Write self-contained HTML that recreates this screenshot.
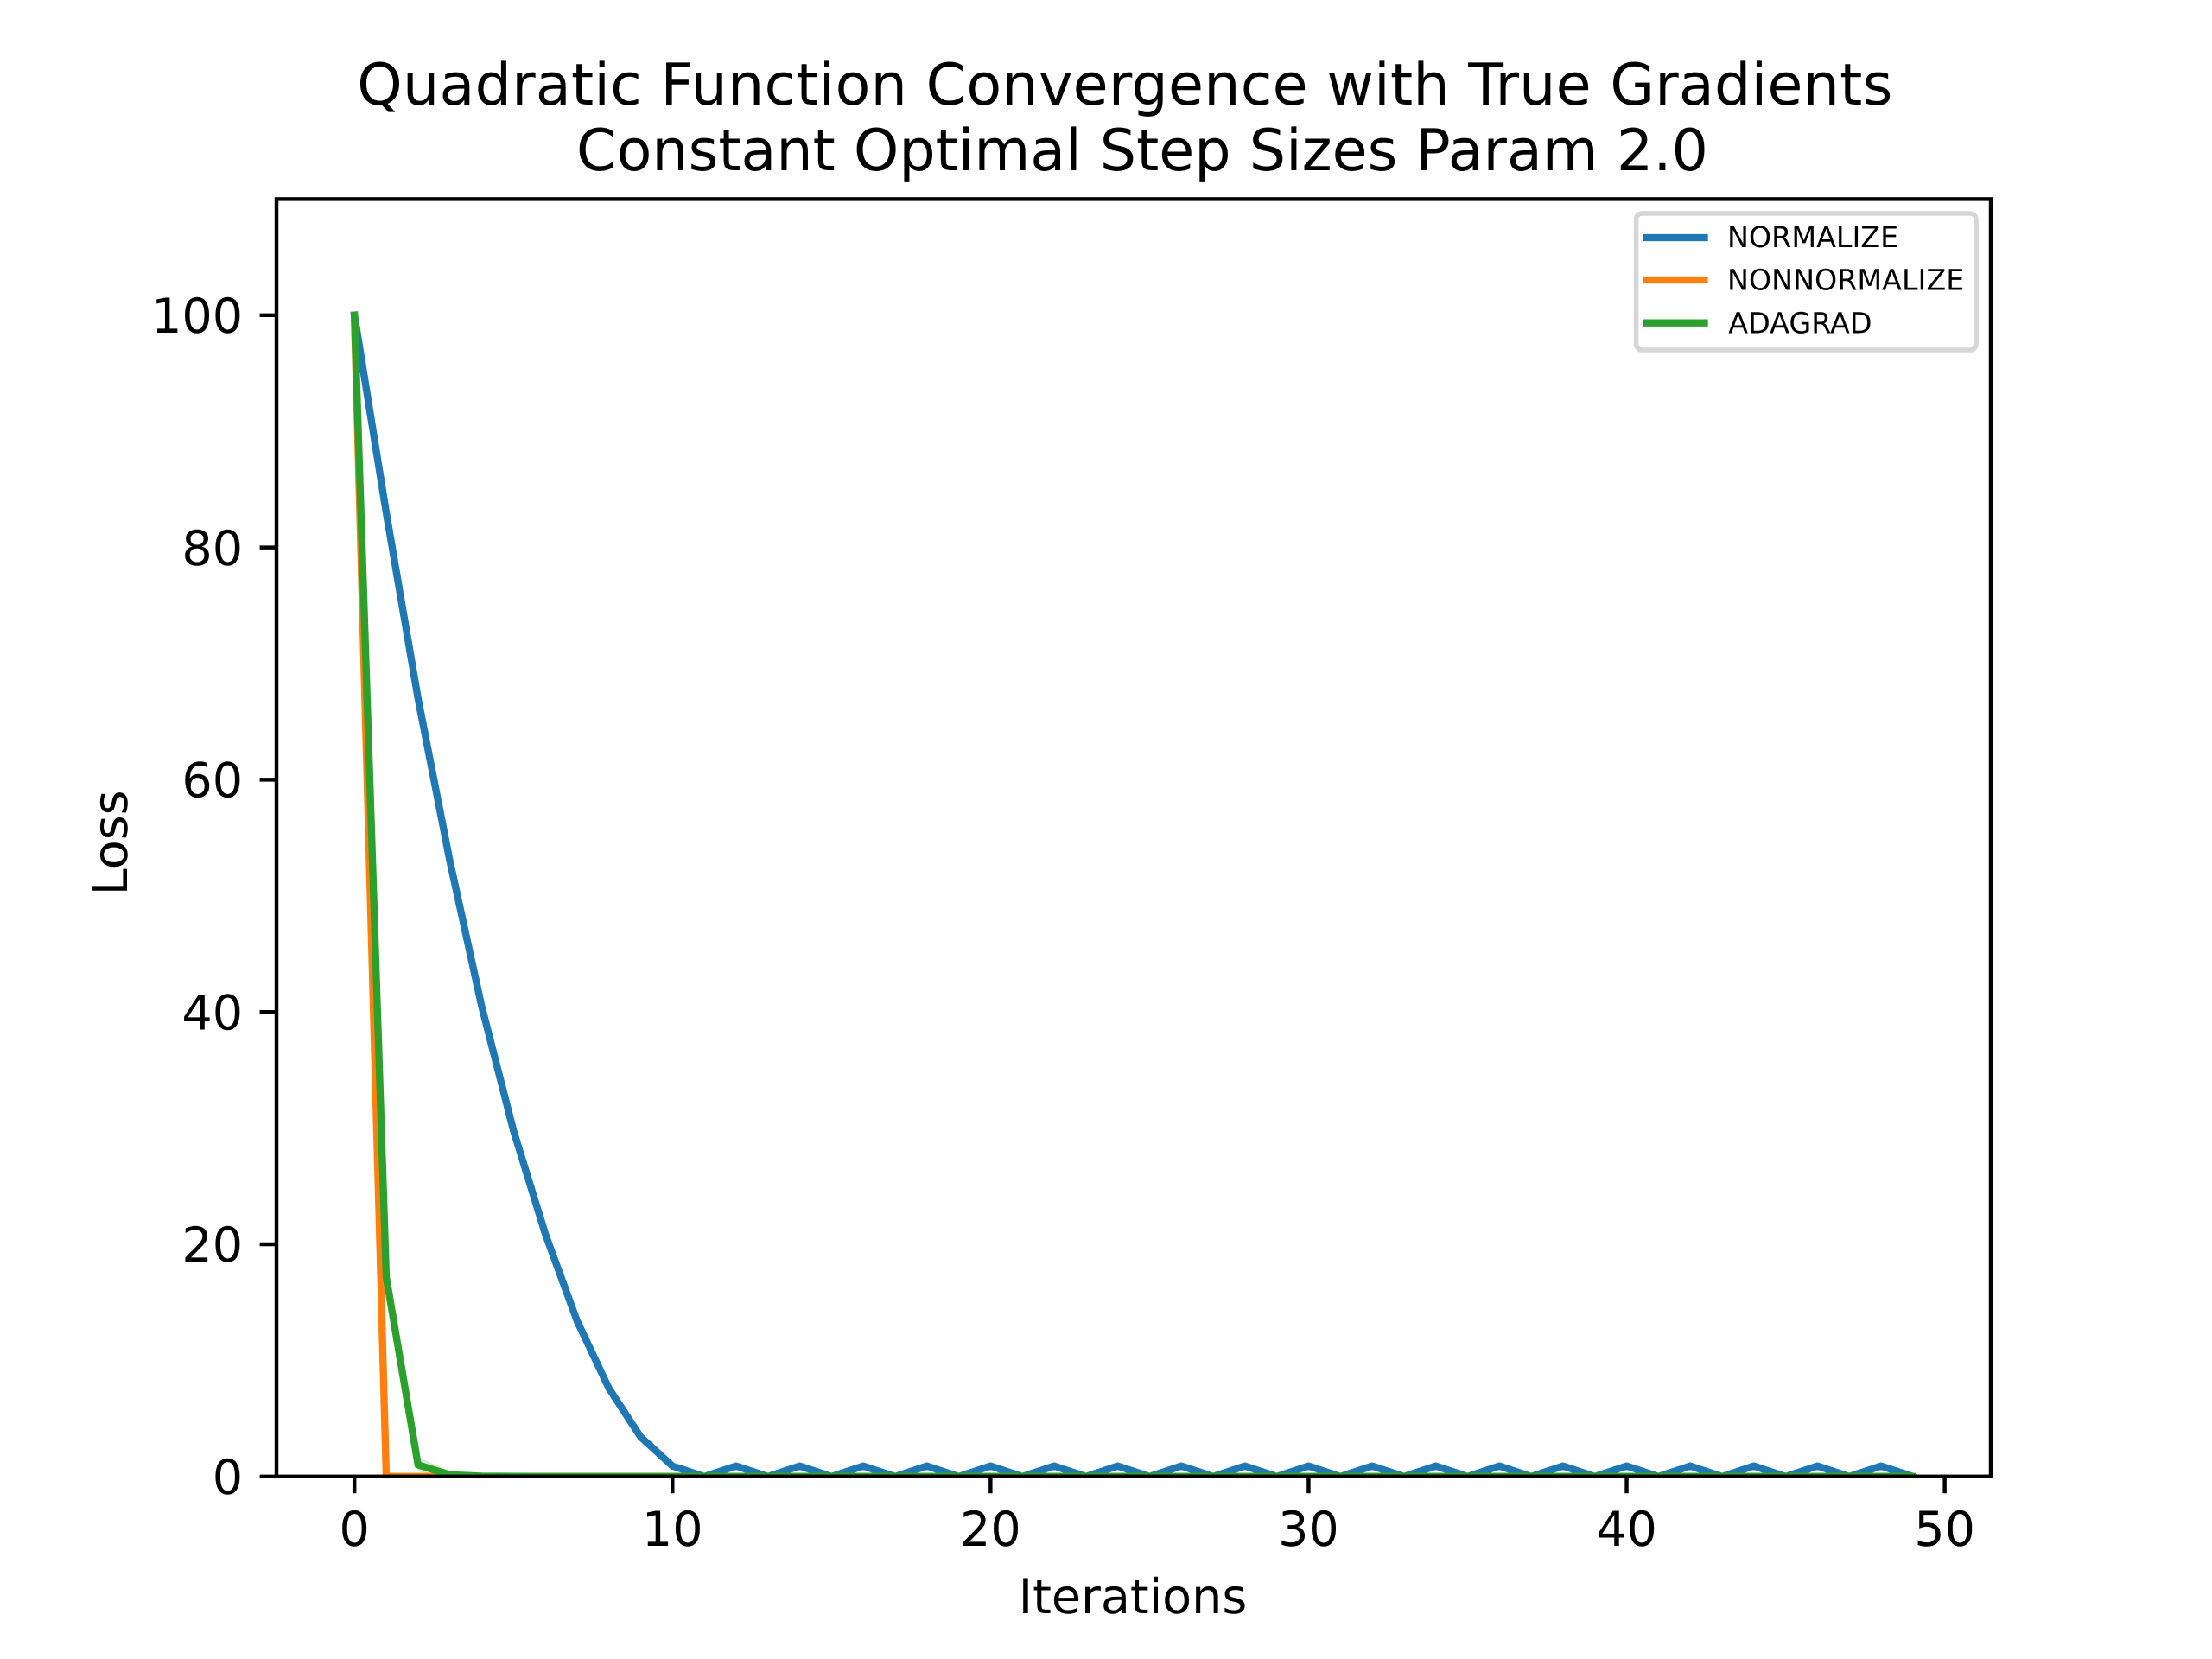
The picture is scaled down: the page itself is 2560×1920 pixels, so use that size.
<!DOCTYPE html>
<html lang="en">
<head>
<meta charset="utf-8">
<title>Quadratic Function Convergence with True Gradients</title>
<style>
  html, body { margin: 0; padding: 0; background: #ffffff; }
  svg { display: block; }
  text { font-family: "DejaVu Sans", "Liberation Sans", sans-serif; fill: #000000; text-rendering: geometricPrecision; }
</style>
</head>
<body>
<svg id="chart" xmlns="http://www.w3.org/2000/svg" width="2560" height="1920" viewBox="0 0 2560 1920">
  <rect x="0" y="0" width="2560" height="1920" fill="#ffffff"/>
  <defs>
    <clipPath id="plot-clip"><rect x="320" y="230.4" width="1984" height="1478.4"/></clipPath>
  </defs>
  <g id="bands" clip-path="url(#plot-clip)"></g>
  <g id="lines" clip-path="url(#plot-clip)"></g>
  <g id="ticks"></g>
  <g fill="none" stroke="#000000" stroke-width="4.44">
    <rect x="320" y="230.4" width="1984" height="1478.4"/>
  </g>
  <g font-size="66.67">
    <text x="413.3" y="121" textLength="1777" lengthAdjust="spacing">Quadratic Function Convergence with True Gradients</text>
    <text x="1322" y="197" text-anchor="middle">Constant Optimal Step Sizes Param 2.0</text>
  </g>
  <text x="1311" y="1867" text-anchor="middle" font-size="55.56">Iterations</text>
  <text transform="translate(146.8 975.3) rotate(-90)" text-anchor="middle" font-size="55.56">Loss</text>
  <g>
    <rect x="1893.6" y="247" width="393.4" height="158" rx="6.67" ry="6.67" fill="#ffffff" fill-opacity="0.8" stroke="#cccccc" stroke-opacity="0.8" stroke-width="5.56"/>
    <g>
      <line x1="1905.8" y1="275" x2="1972.5" y2="275" stroke="#1f77b4" stroke-width="8.33" stroke-linecap="square"/>
      <text x="1999" y="286" font-size="33.33">NORMALIZE</text>
    </g>
    <g>
      <line x1="1905.8" y1="324" x2="1972.5" y2="324" stroke="#ff7f0e" stroke-width="8.33" stroke-linecap="square"/>
      <text x="1999" y="335.7" font-size="33.33">NONNORMALIZE</text>
    </g>
    <g>
      <line x1="1905.8" y1="373.7" x2="1972.5" y2="373.7" stroke="#2ca02c" stroke-width="8.33" stroke-linecap="square"/>
      <text x="2000.3" y="385.7" font-size="33.33">ADAGRAD</text>
    </g>
  </g>
</svg>
<script>
const iterations = [0,1,2,3,4,5,6,7,8,9,10,11,12,13,14,15,16,17,18,19,20,21,22,23,24,25,26,27,28,29,30,31,32,33,34,35,36,37,38,39,40,41,42,43,44,45,46,47,48,49];
const normalizeLoss = [100,83,67,53,40.5,29.8,20.9,13.4,7.6,3.4,0.9,0,0.9,0,0.9,0,0.9,0,0.9,0,0.9,0,0.9,0,0.9,0,0.9,0,0.9,0,0.9,0,0.9,0,0.9,0,0.9,0,0.9,0,0.9,0,0.9,0,0.9,0,0.9,0,0.9,0];
const nonnormalizeLoss = [100,0,0,0,0,0,0,0,0,0,0,0,0,0,0,0,0,0,0,0,0,0,0,0,0,0,0,0,0,0,0,0,0,0,0,0,0,0,0,0,0,0,0,0,0,0,0,0,0,0];
const adagradLoss = [100,17.2,1,0.15,0.03,0.01,0,0,0,0,0,0,0,0,0,0,0,0,0,0,0,0,0,0,0,0,0,0,0,0,0,0,0,0,0,0,0,0,0,0,0,0,0,0,0,0,0,0,0,0];
const adagradUpper = [101,18,1.7,0.45,0.1,0.02,0,0,0,0];
const adagradLower = [99.5,16.5,0.4,0,0,0,0,0,0,0];
const xTickValues = [0,10,20,30,40,50];
const yTickValues = [0,20,40,60,80,100];

const svgNS = 'http://www.w3.org/2000/svg';
const plotLeft = 320, plotWidth = 1984, plotBottom = 1708.8, plotHeight = 1478.4;
const xMin = -2.45, xMax = 51.45, yMin = 0, yMax = 110;
function xScale(v) { return plotLeft + (v - xMin) / (xMax - xMin) * plotWidth; }
function yScale(v) { return plotBottom - (v - yMin) / (yMax - yMin) * plotHeight; }

const bandsGroup = document.getElementById('bands');
const linesGroup = document.getElementById('lines');
const ticksGroup = document.getElementById('ticks');

const bandPoints = [];
adagradUpper.forEach(function (v, i) { bandPoints.push(xScale(iterations[i]) + ',' + yScale(v)); });
for (let i = adagradLower.length - 1; i >= 0; i--) {
  bandPoints.push(xScale(iterations[i]) + ',' + yScale(adagradLower[i]));
}
const band = document.createElementNS(svgNS, 'polygon');


band.setAttribute('points', bandPoints.join(' '));
band.setAttribute('fill', '#2ca02c');
band.setAttribute('fill-opacity', '0.2');
bandsGroup.appendChild(band);

function drawSeries(values, color, seriesName) {
  const line = document.createElementNS(svgNS, 'polyline');
  
  
  line.setAttribute('points', values.map(function (v, i) { return xScale(iterations[i]) + ',' + yScale(v); }).join(' '));
  line.setAttribute('fill', 'none');
  line.setAttribute('stroke', color);
  line.setAttribute('stroke-width', '8.33');
  line.setAttribute('stroke-linecap', 'square');
  line.setAttribute('stroke-linejoin', 'round');
  linesGroup.appendChild(line);
}
drawSeries(normalizeLoss, '#1f77b4', 'normalize-line');
drawSeries(nonnormalizeLoss, '#ff7f0e', 'nonnormalize-line');
drawSeries(adagradLoss, '#2ca02c', 'adagrad-line');

xTickValues.forEach(function (v) {
  const x = xScale(v);
  const mark = document.createElementNS(svgNS, 'line');
  
  
  mark.setAttribute('x1', x);
  mark.setAttribute('x2', x);
  mark.setAttribute('y1', plotBottom);
  mark.setAttribute('y2', plotBottom + 19.44);
  mark.setAttribute('stroke', '#000000');
  mark.setAttribute('stroke-width', '4.44');
  ticksGroup.appendChild(mark);
  const label = document.createElementNS(svgNS, 'text');
  
  
  label.setAttribute('x', x);
  label.setAttribute('y', plotBottom + 80);
  label.setAttribute('text-anchor', 'middle');
  label.setAttribute('font-size', '55.56');
  label.textContent = String(v);
  ticksGroup.appendChild(label);
});

yTickValues.forEach(function (v) {
  const y = yScale(v);
  const mark = document.createElementNS(svgNS, 'line');
  
  
  mark.setAttribute('x1', plotLeft - 19.44);
  mark.setAttribute('x2', plotLeft);
  mark.setAttribute('y1', y);
  mark.setAttribute('y2', y);
  mark.setAttribute('stroke', '#000000');
  mark.setAttribute('stroke-width', '4.44');
  ticksGroup.appendChild(mark);
  const label = document.createElementNS(svgNS, 'text');
  
  
  label.setAttribute('x', plotLeft - 38.9);
  label.setAttribute('y', y + 20.2);
  label.setAttribute('text-anchor', 'end');
  label.setAttribute('font-size', '55.56');
  label.textContent = String(v);
  ticksGroup.appendChild(label);
});
</script>
</body>
</html>
